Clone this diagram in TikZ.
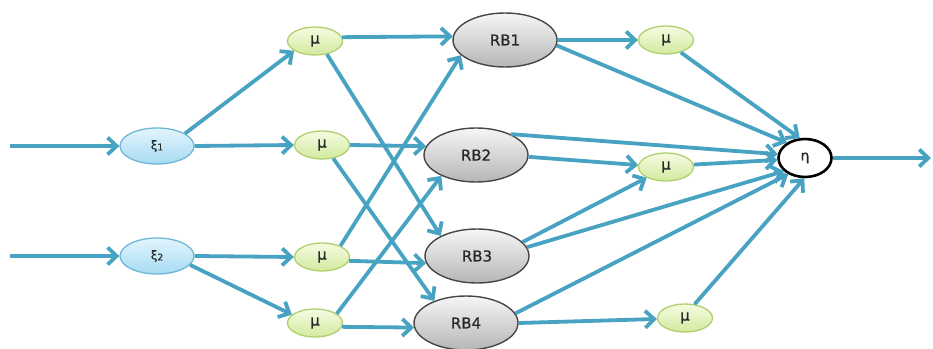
\documentclass[tikz,border=0pt]{standalone}
\usepackage{fontspec}
\setmainfont{DejaVu Sans}[FakeBold=0.8]
\usetikzlibrary{shapes.geometric,arrows.meta}

\definecolor{wire}{RGB}{72,162,194}
\definecolor{xitop}{RGB}{226,245,253}
\definecolor{xibot}{RGB}{166,219,242}
\definecolor{xiline}{RGB}{110,184,214}
\definecolor{mutop}{RGB}{246,251,226}
\definecolor{mubot}{RGB}{210,234,158}
\definecolor{muline}{RGB}{176,208,112}
\definecolor{rbtop}{RGB}{246,246,246}
\definecolor{rbbot}{RGB}{182,182,182}
\definecolor{rbline}{RGB}{70,70,70}
\definecolor{txt}{RGB}{40,40,40}

\newcommand{\subdigit}[1]{{\fontsize{9}{9}\selectfont\raisebox{-1pt}{#1}}}

\tikzset{
  inputnode/.style={ellipse, draw=xiline, line width=1.3pt, top color=xitop, bottom color=xibot,
    minimum width=74pt, minimum height=36pt, inner sep=0pt, text=txt, font=\fontsize{12}{12}\selectfont},
  munode/.style={ellipse, draw=muline, line width=1.3pt, top color=mutop, bottom color=mubot,
    minimum width=55pt, minimum height=28pt, inner sep=0pt, text=txt, font=\fontsize{15}{15}\selectfont},
  rulenode/.style={ellipse, draw=rbline, line width=1.4pt, top color=rbtop, bottom color=rbbot,
    minimum width=104pt, minimum height=54pt, inner sep=0pt, text=txt, font=\fontsize{15}{15}\selectfont},
  outnode/.style={ellipse, draw=black, line width=2.6pt, fill=white,
    minimum width=53pt, minimum height=38pt, inner sep=0pt, text=txt, font=\fontsize{14}{14}\selectfont},
  link/.style={draw=wire, line width=3.8pt,
    -{Straight Barb[length=9pt,width=17pt,line width=3.8pt]}},
}

\begin{document}
\begin{tikzpicture}[x=1pt, y=-1pt]
\useasboundingbox (0,0) rectangle (933,348);

% free ends of the input and output lines
\coordinate (in1) at (10,146);
\coordinate (in2) at (10,256);
\coordinate (out) at (931,158);

% input fuzzification
\node[inputnode] (xi1) at (157,146) {ξ\subdigit{1}};
\node[inputnode] (xi2) at (157,256) {ξ\subdigit{2}};

% membership grades
\node[munode] (m1) at (315,41)  {μ};
\node[munode] (m2) at (322,145) {μ};
\node[munode] (m3) at (322,257) {μ};
\node[munode] (m4) at (315,323) {μ};

% rule base
\node[rulenode] (rb1) at (505,40)  {RB1};
\node[rulenode] (rb2) at (476,155) {RB2};
\node[rulenode] (rb3) at (477,256) {RB3};
\node[rulenode] (rb4) at (466,323) {RB4};

% output grades
\node[munode] (o1) at (666,40)  {μ};
\node[munode] (o2) at (666,167) {μ};
\node[munode] (o3) at (685,318) {μ};

% aggregated output
\node[outnode] (eta) at (805,158) {η};

% inputs
\draw[link] (in1) -- (xi1.west);
\draw[link] (in2) -- (xi2.west);

% fuzzifiers to grades
\draw[link] (xi1.24) -- (m1.205);
\draw[link] (xi1.east) -- (m2.west);
\draw[link] (xi2.east) -- (m3.west);
\draw[link] (xi2.-15) -- (m4.160);

% grades to rules
\draw[link] (m1.8) -- (rb1.176);
\draw[link] (m1.312) -- (rb3.151);
\draw[link] (m2.east) -- (rb2.170);
\draw[link] (m2.310) -- (rb4.145);
\draw[link] (m3.31) -- (rb1.199);
\draw[link] (m3.-8) -- (rb3.188);
\draw[link] (m4.23) -- (rb2.211);
\draw[link] (m4.-8) -- (rb4.185);

% rules to output grades and to the output
\draw[link] (rb1.east) -- (o1.west);
\draw[link] (rb1.354) -- (eta.140);
\draw[link] (rb2.31) -- (eta.172);
\draw[link] (rb2.358) -- (o2.176);
\draw[link] (rb3.17) -- (o2.209);
\draw[link] (rb3.10) -- (eta.212);
\draw[link] (rb4.11) -- (eta.224);
\draw[link] (rb4.east) -- (o3.182);

% output grades to the output
\draw[link] (o1.320) -- (eta.105);
\draw[link] (o2.5) -- (eta.184);
\draw[link] (o3.55) -- (eta.268);

% crisp output
\draw[link] (eta.east) -- (out);
\end{tikzpicture}
\end{document}
